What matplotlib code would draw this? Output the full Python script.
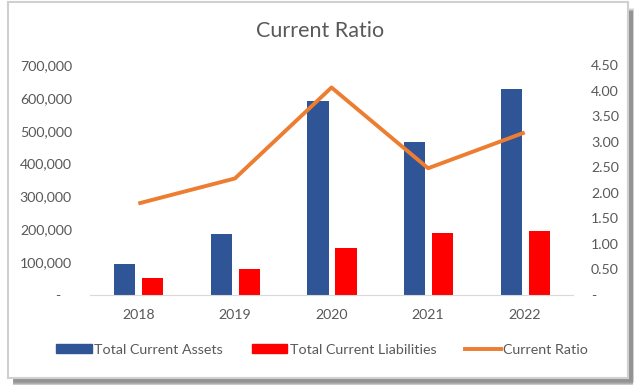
from matplotlib import pyplot as plt
from matplotlib.patches import Rectangle
from matplotlib.lines import Line2D
from matplotlib.ticker import FuncFormatter
import numpy as np

plt.rcParams['font.family'] = ['Lato', 'DejaVu Sans']

years = ["2018", "2019", "2020", "2021", "2022"]
assets = [94000, 186000, 590000, 467000, 626000]
liabilities = [51000, 79000, 144000, 188000, 196000]
ratio = [1.79, 2.28, 4.06, 2.48, 3.18]

blue = "#2F5597"
red = "#FF0000"
orange = "#ED7D31"
grey_txt = "#595959"

fig = plt.figure(figsize=(6.4, 3.9), dpi=100)

# 外框 + 阴影
for i, a in enumerate([0.10, 0.14, 0.20, 0.28]):
    d = 4 - i
    fig.patches.append(Rectangle((12 / 640 + d / 640 * 0.5, (390 - 386 + d) / 390),
                                 (620) / 640, (374) / 390, transform=fig.transFigure,
                                 facecolor="#404040", alpha=a, edgecolor="none", zorder=0))
fig.patches.append(Rectangle((8 / 640, (390 - 378) / 390), 620 / 640, 376 / 390,
                             transform=fig.transFigure, facecolor="white",
                             edgecolor="#D0D0D0", linewidth=1.5, zorder=1))

ax = fig.add_axes([90 / 640, (390 - 295) / 390, (573 - 90) / 640, 230 / 390])
ax.set_zorder(2)
ax.patch.set_alpha(0)
x = np.arange(len(years))
w = 0.22
ax.bar(x - 0.14, assets, w, color=blue, label="Total Current Assets")
ax.bar(x + 0.15, liabilities, w, color=red, label="Total Current Liabilities")
ax.set_xlim(-0.5, 4.5)
ax.set_ylim(0, 700000)
ax.set_yticks(range(0, 700001, 100000))
ax.yaxis.set_major_formatter(FuncFormatter(lambda v, p: "-   " if v == 0 else "{:,.0f}".format(v)))
ax.set_xticks(x)
ax.set_xticklabels(years)
for s in ["top", "left", "right"]:
    ax.spines[s].set_visible(False)
ax.spines["bottom"].set_color("#D9D9D9")
ax.tick_params(axis="both", length=0, labelcolor=grey_txt, labelsize=10.2)
ax.tick_params(axis="y", pad=13)
ax.tick_params(axis="x", pad=10)

ax2 = ax.twinx()
ax2.plot(x, ratio, color=orange, linewidth=2.8, solid_capstyle="butt")
ax2.set_ylim(0, 4.5)
ax2.set_yticks(np.arange(0, 4.51, 0.5))
ax2.yaxis.set_major_formatter(FuncFormatter(lambda v, p: "-" if v == 0 else "{:.2f}".format(v)))
for s in ["top", "left", "right", "bottom"]:
    ax2.spines[s].set_visible(False)
ax2.tick_params(axis="y", length=0, labelcolor=grey_txt, labelsize=10.2, pad=13)

fig.text(320 / 640, (390 - 31) / 390, "Current Ratio", ha="center", va="center",
         fontsize=15.5, color=grey_txt, zorder=3)

handles = [Rectangle((0, 0), 1, 1, color=blue), Rectangle((0, 0), 1, 1, color=red),
           Line2D([0], [0], color=orange, linewidth=2.8)]
labels = ["Total Current Assets", "Total Current Liabilities", "Current Ratio"]
fig.legend(handles, labels, loc="center", bbox_to_anchor=(322 / 640, (390 - 350) / 390),
           ncol=3, frameon=False, fontsize=10.3, labelcolor=grey_txt,
           handlelength=2.5, handleheight=0.6, handletextpad=0.15, columnspacing=2.0)

plt.savefig("out.png", dpi=100)
